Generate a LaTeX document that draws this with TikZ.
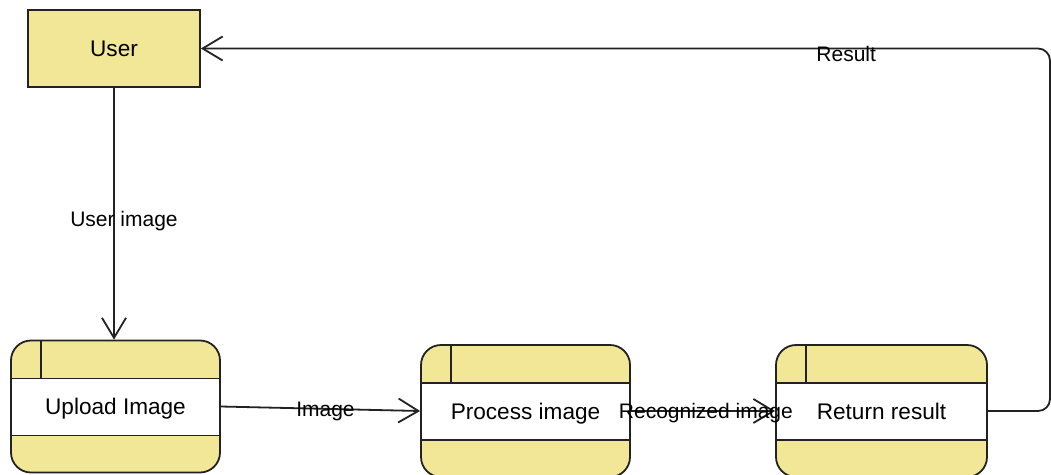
\documentclass[tikz,border=0pt]{standalone}
\usepackage{fontspec}
\setmainfont{Liberation Sans}
\usetikzlibrary{arrows.meta}
\definecolor{khaki}{HTML}{F2E797}
\definecolor{ln}{HTML}{222222}
\begin{document}
\begin{tikzpicture}[x=1pt,y=-1pt,
  txt/.style={font=\fontsize{22.6}{26}\selectfont, text=black, text depth=0pt},
  etxt/.style={font=\fontsize{21}{25}\selectfont, text=black, text depth=0pt},
  entity/.style={txt, draw=ln, line width=1.8pt, fill=khaki, minimum width=172pt, minimum height=77pt, inner sep=0pt},
  proc/.style={txt, draw=ln, line width=1.8pt, fill=white, rounded corners=20pt,
    minimum width=#1, minimum height=132pt, inner sep=0pt,
    path picture={
      \begin{scope}[sharp corners]
      \fill[khaki] (path picture bounding box.north west) rectangle ([yshift=-38pt]path picture bounding box.north east);
      \fill[khaki] (path picture bounding box.south west) rectangle ([yshift=37pt]path picture bounding box.south east);
      \draw[ln, line width=1.8pt] ([yshift=-38pt]path picture bounding box.north west) -- ([yshift=-38pt]path picture bounding box.north east);
      \draw[ln, line width=1.8pt] ([yshift=37pt]path picture bounding box.south west) -- ([yshift=37pt]path picture bounding box.south east);
      \draw[ln, line width=1.8pt] ([xshift=30pt]path picture bounding box.north west) -- ([xshift=30pt,yshift=-38pt]path picture bounding box.north west);
      \end{scope}
    }},
  flow/.style={draw=ln, line width=1.8pt, -{Straight Barb[length=20pt,width=24pt,line width=1.8pt]}},
  lbl/.style={etxt, inner sep=0pt}
]
\useasboundingbox (0,0) rectangle (1051,474);

\node[entity] (user) at (114,48.5) {User};
\node[proc=209pt] (up) at (115.5,406.5) {Upload Image};
\node[proc=209pt] (pr) at (525.5,411) {Process image};
\node[proc=211pt] (rr) at (881.5,411) {Return result};

\coordinate (c1) at (1050,411);
\coordinate (c2) at (1050,48.5);

\draw[flow] (user.south) -- node[lbl, pos=0.52, xshift=10pt] {User image} (user.south |- up.north);
\draw[flow] (up.east) -- node[lbl, pos=0.525] {Image} (pr.west);
\draw[flow] (pr.east) -- node[lbl, pos=0.52] {Recognized image} (rr.west);
\draw[flow, rounded corners=12pt] (rr.east) -- (c1) -- (c2) -- node[lbl, pos=0.24, yshift=-5pt] {Result} (user.east);
\end{tikzpicture}
\end{document}
